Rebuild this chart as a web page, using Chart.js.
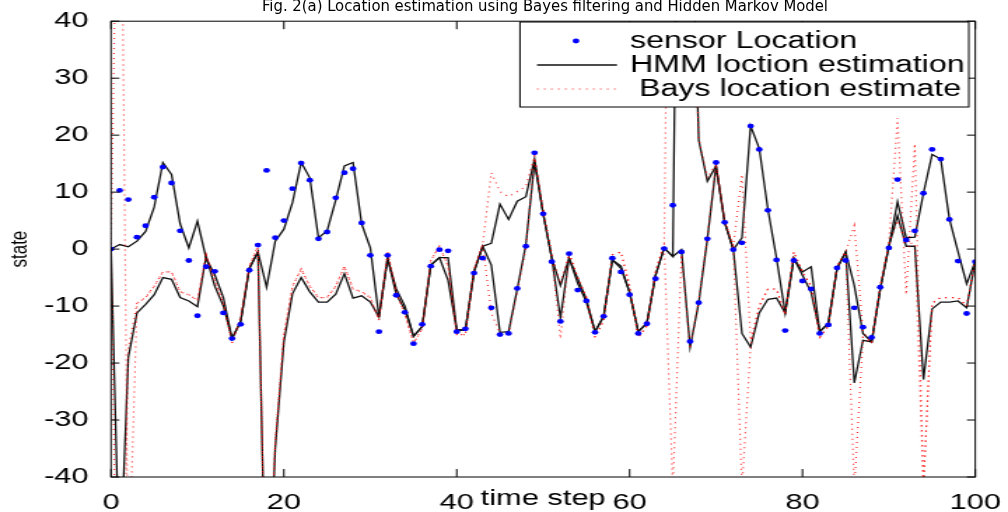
<!DOCTYPE html>
<html>
<head>
<meta charset="utf-8">
<script src="https://cdn.jsdelivr.net/npm/chart.js@4.4.1/dist/chart.umd.min.js"></script>
<style>
  html, body { margin:0; padding:0; background:#fff; overflow:hidden; }
  #title { position:absolute; left:0; top:-3px; width:1090px; text-align:center;
           font-family:'Liberation Sans Narrow','DejaVu Sans Condensed',sans-serif; font-size:16.5px; line-height:17px; color:#000; z-index:2; }
  #wrap { position:absolute; left:0; top:0; width:720px; height:512px; transform:scaleX(1.4); transform-origin:0 0; }
</style>
</head>
<body>
<div id="title">Fig. 2(a) Location estimation using Bayes filtering and Hidden Markov Model</div>
<div id="wrap"><canvas id="locChart"></canvas></div>
<script>
const steps = [...Array(101).keys()]

const sensorLoc = [0,10.3,8.7,2.1,4.1,9.1,14.4,11.6,3.2,-2.0,
  -11.7,-3.1,-3.9,-11.2,-15.7,-13.2,-3.7,0.7,13.8,2.0,
  5.0,10.6,15.1,12.1,1.8,3.0,9.0,13.4,14.1,4.6,
  -1.1,-14.5,-1.1,-8.1,-11.1,-16.6,-13.2,-3.0,-0.1,-0.3,
  -14.5,-14.0,-4.2,-1.6,-10.3,-15.0,-14.8,-6.9,0.5,16.9,
  6.2,-2.2,-12.7,-0.8,-7.2,-9.1,-14.6,-11.8,-1.6,-4.0,
  -8.0,-14.8,-13.1,-5.2,0.1,7.7,-0.5,-16.2,-9.4,1.8,
  15.2,4.7,-0.1,1.1,21.6,17.5,6.8,-1.9,-14.3,-2.0,
  -5.6,-7.0,-14.8,-13.3,-3.3,-2.0,-10.3,-13.7,-15.5,-6.7,
  0.2,12.2,1.6,3.2,9.8,17.5,15.8,5.2,-2.1,-11.3,-2.2]

const hmmUpper = [0,0.8,0.4,1.4,3.1,7.4,15.2,13.1,4.4,0.2,
  4.9,-1.6,-4.5,-8.5,-15.7,-12.7,-3.4,-0.5,-6.7,1.4,
  3.5,8.2,15.2,12.5,2.0,3.2,8.6,14.6,15.2,4.4,
  0.2,-11.9,-1.6,-7.0,-10.0,-15.3,-13.6,-2.8,-1.5,-1.5,
  -14.2,-14.2,-4.0,0.5,1.0,7.9,5.2,8.4,9.2,15.8,
  6.2,-1.6,-6.4,-1.6,-5.2,-8.8,-14.5,-11.8,-1.9,-3.4,
  -7.6,-14.5,-13.0,-4.6,0.2,-1.3,130,70,19.1,11.9,
  14.6,4.7,-0.1,2.0,21.6,17.7,7.0,-1.6,-11.2,-1.6,
  -4.0,-3.1,-14.5,-13.0,-3.4,-0.5,-6.4,-14.8,-16.3,-7.0,
  0.5,8.3,2.0,2.1,9.8,16.6,15.8,5.3,-0.5,-6.1,-2.1]

const hmmLower = [0,-58,-19,-11.2,-9.7,-8.0,-5.0,-5.3,-8.5,-9.1,
  -10.1,-1.3,-6.5,-10.0,-15.7,-12.7,-3.4,-0.5,-70,-35,
  -16.3,-7.8,-5.0,-7.5,-9.3,-9.3,-7.9,-4.3,-8.6,-8.2,
  -9.3,-11.9,-1.6,-8.0,-10.6,-15.3,-13.6,-2.8,-1.5,-5.5,
  -14.2,-14.2,-4.0,0.5,-2.8,-14.6,-14.5,-7.0,0.8,15.2,
  6.2,-1.6,-12.1,-1.6,-6.0,-9.3,-14.5,-11.8,-1.9,-3.0,
  -7.6,-14.5,-13.0,-4.6,0.2,-1.3,-0.1,-17.2,-9.4,1.8,
  14.6,4.7,-0.1,-14.8,-17.2,-11.2,-8.8,-8.6,-11.2,-1.6,
  -4.6,-7.6,-14.5,-13.0,-3.4,-0.5,-23.5,-16.0,-16.3,-7.0,
  0.5,5.9,0.5,0.5,-22.9,-10.5,-9.3,-9.3,-9.1,-10.3,-2.1]

const bayesA = [0,100,-60,-9.5,-8.5,-6.5,-4.0,-4.0,-7.5,-8.0,
  -9.0,-1.0,-5.5,-9.5,-16.5,-12.0,-3.0,0.5,-70,-34,
  -15,-6.5,-3.5,-6.5,-8.5,-8.5,-6.5,-3.0,-7.0,-7.5,
  -8.5,-12.5,-0.5,-7.5,-11.5,-16.5,-14.0,-2.0,0.5,-3.0,
  -15.0,-15.0,-3.5,0.8,13.4,10.1,9.2,10.1,11.0,16.4,
  6.8,-1.0,-6.0,-0.7,-5.0,-8.5,-15.5,-12.5,-1.0,-0.5,
  -6.5,-15.5,-13.5,-4.0,1.0,130,130,70,19.5,12.5,
  15.0,5.0,0.5,13.1,-16.0,-10.0,-7.0,-7.0,-11.5,-0.5,
  -4.0,-6.5,-15.5,-13.5,-3.0,-0.5,4.1,-14.5,-16.5,-6.5,
  1.0,23.0,-8.0,18.5,-42,-9.5,-8.5,-8.5,-8.5,-10.0,-2.0]

const bayesB = [0,-100,-17.5,-9.5,-8.5,-6.5,-4.0,-4.0,-7.5,-8.0,
  -9.0,-1.0,-5.5,-9.5,-16.5,-12.0,-3.0,0.5,-70,-34,
  -15,-6.5,-3.5,-6.5,-8.5,-8.5,-6.5,-3.0,-7.0,-7.5,
  -8.5,-12.5,-0.5,-7.5,-11.5,-16.5,-14.0,-2.0,0.5,-3.0,
  -15.0,-15.0,-3.5,0.8,-11.2,-14.8,-14.8,-7.6,0.2,16.0,
  6.8,-1.0,-15.7,-0.7,-5.0,-8.5,-15.5,-12.5,-1.0,-0.5,
  -6.5,-15.5,-13.5,-4.0,1.0,-42,-1.0,-17.5,-9.0,2.0,
  15.0,5.0,0.5,-42,-17.0,-10.0,-7.0,-7.0,-11.5,-0.5,
  -4.0,-6.5,-15.5,-13.5,-3.0,-0.5,-42,-15.5,-16.5,-6.5,
  1.0,5.0,1.0,1.0,-42,-9.5,-8.5,-8.5,-8.5,-10.0,-2.0]

const xTicks = [0,20,40,60,80,100]
const yTicks = [-40,-30,-20,-10,0,10,20,30,40]

const pts = arr => steps.map((t, i) => ({x:t, y:arr[i]}))
const FONT = 'Liberation Sans, Arial, sans-serif'
const RED = 'rgba(255,0,0,0.85)'

// matlab style box with inward ticks
const boxAxes = {
    id:'boxAxes',
    afterDatasetsDraw(chart) {
        const {ctx, chartArea:a, scales} = chart
        ctx.save()
        ctx.strokeStyle = '#000'
        ctx.lineWidth = 1
        ctx.strokeRect(a.left, a.top, a.right - a.left, a.bottom - a.top)
        ctx.beginPath()
        xTicks.forEach(v => {
            const x = scales.x.getPixelForValue(v)
            ctx.moveTo(x, a.bottom); ctx.lineTo(x, a.bottom - 8)
            ctx.moveTo(x, a.top); ctx.lineTo(x, a.top + 8)
        })
        yTicks.forEach(v => {
            const y = scales.y.getPixelForValue(v)
            ctx.moveTo(a.left, y); ctx.lineTo(a.left + 6, y)
            ctx.moveTo(a.right, y); ctx.lineTo(a.right - 6, y)
        })
        ctx.stroke()
        ctx.restore()
    }
}

const boxLegend = {
    id:'boxLegend',
    afterDraw(chart) {
        const ctx = chart.ctx
        const L = 371.4, R = 692, T = 22, B = 107
        const rows = [41, 65, 89]
        ctx.save()
        ctx.fillStyle = '#fff'
        ctx.fillRect(L, T, R - L, B - T)
        ctx.strokeStyle = '#000'
        ctx.lineWidth = 1
        ctx.strokeRect(L, T, R - L, B - T)
        ctx.font = '23px ' + FONT
        ctx.textBaseline = 'middle'
        chart.data.datasets.filter(d => d.inLegend).forEach((d, i) => {
            const y = rows[i]
            if (d.showLine === false) {
                ctx.fillStyle = d.pointBackgroundColor
                ctx.beginPath(); ctx.arc(411.4, y, d.pointRadius, 0, Math.PI * 2); ctx.fill()
            } else {
                ctx.strokeStyle = d.borderColor
                ctx.lineWidth = d.borderWidth
                ctx.setLineDash(d.borderDash || [])
                ctx.beginPath(); ctx.moveTo(383.6, y); ctx.lineTo(440.7, y); ctx.stroke()
                ctx.setLineDash([])
            }
            ctx.fillStyle = '#000'
            ctx.fillText(d.label, 450, y + 1)
        })
        ctx.restore()
    }
}

const ctx = document.getElementById('locChart')
new Chart(ctx, {
    type: 'line',
    data: {
        datasets: [
            {label:'sensor Location', data:pts(sensorLoc), showLine:false, pointRadius:2.4, pointHoverRadius:2.4,
             pointBackgroundColor:'#0000ff', pointBorderWidth:0, order:0, inLegend:true},
            {label:'HMM loction estimation', data:pts(hmmUpper), borderColor:'#111', borderWidth:1.3, pointRadius:0, order:2, inLegend:true},
            {label:'HMM lower', data:pts(hmmLower), borderColor:'#111', borderWidth:1.3, pointRadius:0, order:2},
            {label:' Bays location estimate', data:pts(bayesA), borderColor:RED, borderWidth:1.2, borderDash:[1,4], pointRadius:0, order:1, inLegend:true},
            {label:'Bays lower', data:pts(bayesB), borderColor:RED, borderWidth:1.2, borderDash:[1,4], pointRadius:0, order:1}
        ]
    },
    options: {
        responsive: true,
        maintainAspectRatio: false,
        animation: false,
        layout: { padding: {top:14, right:21.4, bottom:0, left:0} },
        scales: {
            x: {
                type:'linear', min:0, max:100,
                afterBuildTicks: s => { s.ticks = xTicks.map(v => ({value:v})) },
                afterFit: s => { s.height = 35 },
                grid: {display:false}, border: {display:false},
                ticks: {color:'#000', padding:5, maxRotation:0, font:{family:FONT, size:22}},
                title: {display:true, text:'time step', color:'#000', padding:{top:0, bottom:0}, font:{family:FONT, size:22}}
            },
            y: {
                min:-40, max:40,
                afterBuildTicks: s => { s.ticks = yTicks.map(v => ({value:v})) },
                afterFit: s => { s.width = 79.3 },
                grid: {display:false}, border: {display:false},
                ticks: {color:'#000', padding:8, font:{family:FONT, size:22}},
                title: {display:true, text:'state', color:'#000', padding:{top:4, bottom:0}, font:{family:FONT, size:17}}
            }
        },
        plugins: {
            legend: {display:false},
            tooltip: {enabled:false}
        }
    },
    plugins: [boxAxes, boxLegend]
})
</script>
</body>
</html>
